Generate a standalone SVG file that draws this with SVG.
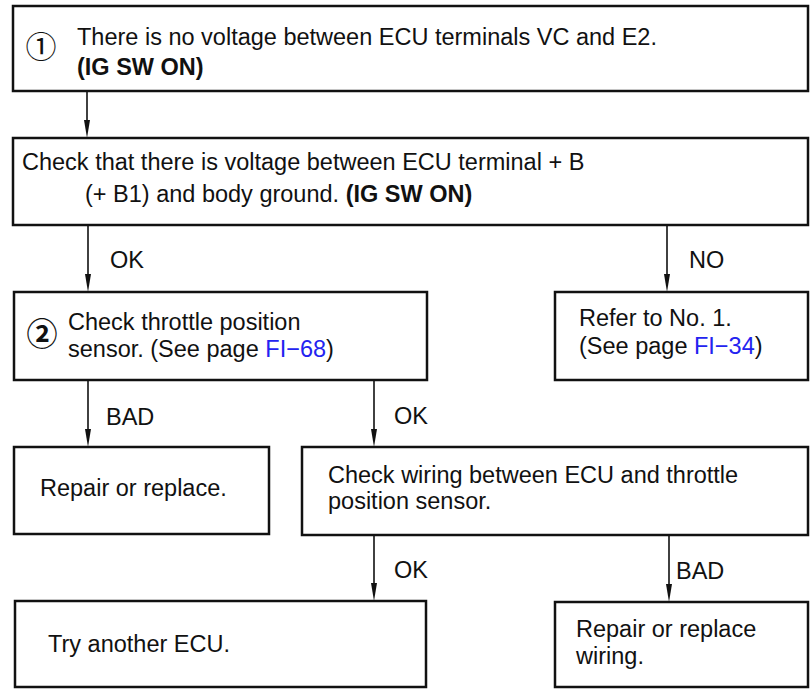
<svg xmlns="http://www.w3.org/2000/svg" width="812" height="689" viewBox="0 0 812 689">
<style>
.box{fill:#fff;stroke:#111;stroke-width:2.5}
.t{font-family:"Liberation Sans",Arial,sans-serif;font-size:23.5px;fill:#111}
.b{font-weight:bold}
.lnk{fill:#2323f0}
.cn{font-family:"Noto Sans CJK JP","DejaVu Sans",sans-serif;font-size:31px;fill:#111;text-anchor:middle}
.edge{stroke:#111;stroke-width:1.6;fill:none}
.head{fill:#111}
</style>
<rect width="812" height="689" fill="#fff"/>

<g id="connectors">
<g id="e1"><line class="edge" x1="87" y1="92" x2="87" y2="122"/><path class="head" d="M84,120 L90,120 L87,138 Z"/></g>
<g id="e2"><line class="edge" x1="88" y1="226" x2="88" y2="276"/><path class="head" d="M85,274 L91,274 L88,292 Z"/></g>
<g id="e3"><line class="edge" x1="667" y1="226" x2="667" y2="276"/><path class="head" d="M664,274 L670,274 L667,292 Z"/></g>
<g id="e4"><line class="edge" x1="88" y1="380" x2="88" y2="431"/><path class="head" d="M85,429 L91,429 L88,447 Z"/></g>
<g id="e5"><line class="edge" x1="374" y1="380" x2="374" y2="431"/><path class="head" d="M371,429 L377,429 L374,447 Z"/></g>
<g id="e6"><line class="edge" x1="374" y1="536" x2="374" y2="585"/><path class="head" d="M371,583 L377,583 L374,601 Z"/></g>
<g id="e7"><line class="edge" x1="669" y1="536" x2="669" y2="586"/><path class="head" d="M666,584 L672,584 L669,602 Z"/></g>
<text class="t" x="110" y="268">OK</text>
<text class="t" x="689" y="268">NO</text>
<text class="t" x="106" y="425">BAD</text>
<text class="t" x="394" y="424">OK</text>
<text class="t" x="394" y="578">OK</text>
<text class="t" x="676" y="579">BAD</text>
</g>

<g id="n1">
<rect class="box" x="13" y="6" width="795" height="85"/>
<text class="cn" x="41" y="58">①</text>
<text class="t" x="77" y="45">There is no voltage between ECU terminals VC and E2.</text>
<text class="t b" x="77" y="75">(IG SW ON)</text>
</g>

<g id="n2">
<rect class="box" x="13" y="138" width="795" height="87"/>
<text class="t" x="22" y="170">Check that there is voltage between ECU terminal + B</text>
<text class="t" x="85" y="202">(+ B1) and body ground. <tspan class="b">(IG SW ON)</tspan></text>
</g>

<g id="n3">
<rect class="box" x="14" y="292" width="413" height="88"/>
<text class="cn b" x="42" y="345">②</text>
<text class="t" x="68" y="330">Check throttle position</text>
<text class="t" x="68" y="357">sensor. (See page <tspan class="lnk">FI−68</tspan>)</text>
</g>

<g id="n4">
<rect class="box" x="555" y="292" width="253" height="88"/>
<text class="t" x="579" y="326">Refer to No. 1.</text>
<text class="t" x="579" y="354">(See page <tspan class="lnk">FI−34</tspan>)</text>
</g>

<g id="n5">
<rect class="box" x="14" y="447" width="255" height="87"/>
<text class="t" x="40" y="496">Repair or replace.</text>
</g>

<g id="n6">
<rect class="box" x="302" y="447" width="506" height="88"/>
<text class="t" x="328" y="483">Check wiring between ECU and throttle</text>
<text class="t" x="328" y="509">position sensor.</text>
</g>

<g id="n7">
<rect class="box" x="15" y="601" width="411" height="86"/>
<text class="t" x="48" y="652">Try another ECU.</text>
</g>

<g id="n8">
<rect class="box" x="555" y="602" width="253" height="85"/>
<text class="t" x="576" y="637">Repair or replace</text>
<text class="t" x="576" y="664">wiring.</text>
</g>
</svg>
